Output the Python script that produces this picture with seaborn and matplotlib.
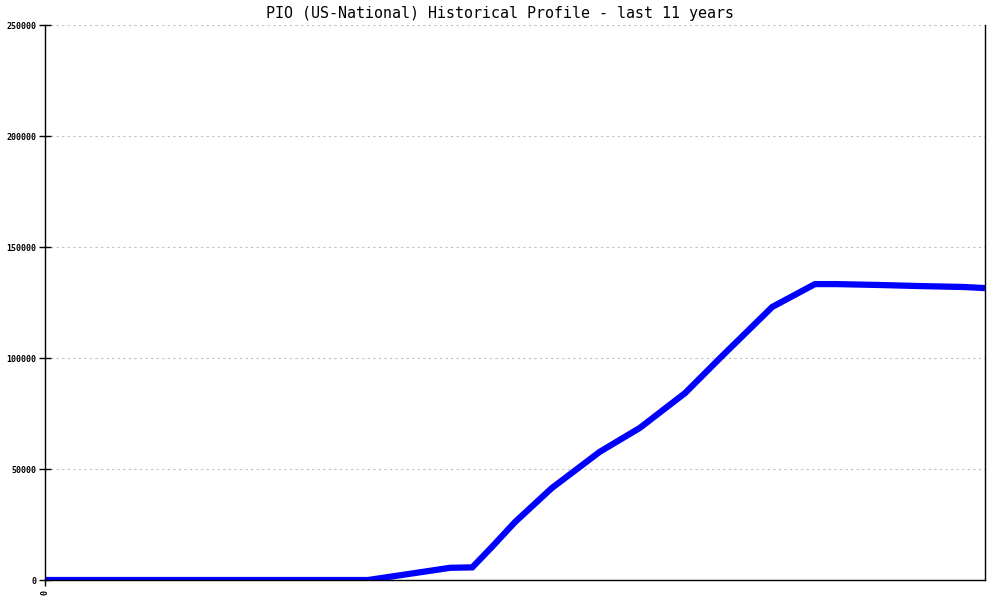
import numpy as np
import pandas as pd
import seaborn as sns
import matplotlib.pyplot as plt

# years since start of the 11-year window
years = [0.0, 3.78, 4.74, 5.00, 5.23, 5.50, 5.93, 6.49, 6.96, 7.49, 7.90,
         8.51, 9.01, 9.26, 9.76, 10.25, 10.75, 11.0]
# routes announced
routes = [0, 0, 5500, 5700, 14900, 26100, 41400, 57700, 68500, 84200, 100000,
          123000, 133300, 133300, 132900, 132400, 132000, 131500]
y_ticks = [0, 50000, 100000, 150000, 200000, 250000]
title = "PIO (US-National) Historical Profile - last 11 years"

df = pd.DataFrame({"year": years, "routes": routes})

sns.set_style("white")
plt.rcParams['font.family'] = ['DejaVu Sans Mono', 'DejaVu Sans']
plt.rcParams['text.color'] = 'black'
plt.rcParams['xtick.color'] = 'black'
plt.rcParams['ytick.color'] = 'black'

fig = plt.figure(figsize=(10, 6), dpi=100)
ax = fig.add_axes([0.045, 0.0333, 0.94, 0.925])

sns.lineplot(data=df, x="year", y="routes", ax=ax, color="#0000ff",
             linewidth=4.5, solid_joinstyle="miter", solid_capstyle="butt")

ax.set_xlim(0, 11)
ax.set_ylim(0, 250000)
ax.set_yticks(y_ticks)
ax.set_yticklabels([str(v) for v in y_ticks], fontsize=6, fontweight="bold")
ax.set_xticks([0])
ax.set_xticklabels(["0"], fontsize=6, fontweight="bold", rotation=90)
ax.set_xlabel("")
ax.set_ylabel("")

ax.yaxis.grid(True, linestyle=(0, (2, 3)), color="#c0c0c0", linewidth=0.8)
ax.xaxis.grid(False)
ax.tick_params(axis="y", direction="inout", length=8, width=1, pad=2, left=True)
ax.tick_params(axis="x", direction="out", length=4, width=1, pad=3, bottom=True)

for side in ["left", "bottom", "right"]:
    ax.spines[side].set_visible(True)
    ax.spines[side].set_color("black")
    ax.spines[side].set_linewidth(1)
ax.spines["top"].set_visible(False)

fig.text(0.5, 0.978, title, ha="center", va="center", fontsize=10.8,
         color="black")

fig.savefig("out.png", dpi=100, facecolor="white")
